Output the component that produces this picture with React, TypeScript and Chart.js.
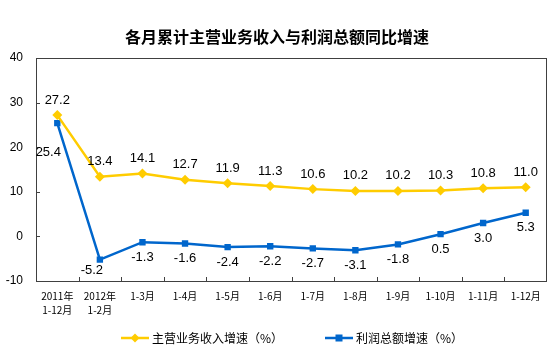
import React, { useEffect, useRef } from "react";
import { Chart, registerables } from "chart.js";

Chart.register(...registerables);

const chartTitle = "各月累计主营业务收入与利润总额同比增速";
const categories: (string | string[])[] = [
  ["2011年", "1-12月"],
  ["2012年", "1-2月"],
  "1-3月",
  "1-4月",
  "1-5月",
  "1-6月",
  "1-7月",
  "1-8月",
  "1-9月",
  "1-10月",
  "1-11月",
  "1-12月",
];
const revenueName = "主营业务收入增速（%）";
const profitName = "利润总额增速（%）";
const revenueGrowth = [27.2, 13.4, 14.1, 12.7, 11.9, 11.3, 10.6, 10.2, 10.2, 10.3, 10.8, 11.0];
const profitGrowth = [25.4, -5.2, -1.3, -1.6, -2.4, -2.2, -2.7, -3.1, -1.8, 0.5, 3.0, 5.3];
const yMin = -10;
const yMax = 40;
const yStep = 10;

const YELLOW = "#FFCC00";
const BLUE = "#0066CC";
const AXIS = "#404040";
const SANS = "'Liberation Sans', Arial, sans-serif";
const CJK = "'Noto Sans CJK SC', sans-serif";

// label placement style: [dx, dy] relative to point, per dataset
const revenueLabelShift = (i: number) => [0, -15];
const profitLabelShift = (i: number) => (i === 0 ? [-9, 29] : i === 1 ? [-8, 11] : [0, 15]);

const overlayPlugin = {
  id: "overlay",
  afterDatasetsDraw(chart: any) {
    const ctx = chart.ctx;
    const { left, right, top, bottom } = chart.chartArea;
    const x = chart.scales.x;
    const y = chart.scales.y;
    ctx.save();
    // frame
    ctx.strokeStyle = AXIS;
    ctx.lineWidth = 1;
    ctx.strokeRect(Math.round(left) + 0.5, Math.round(top) + 0.5, Math.round(right - left) - 1, Math.round(bottom - top));
    // y inward ticks
    for (let v = yMin; v <= yMax; v += yStep) {
      const py = Math.round(y.getPixelForValue(v)) + 0.5;
      ctx.beginPath();
      ctx.moveTo(left, py);
      ctx.lineTo(left + 4, py);
      ctx.stroke();
    }
    // x inward ticks between categories
    const n = categories.length;
    for (let i = 1; i < n; i++) {
      const px = Math.round((x.getPixelForValue(i - 1) + x.getPixelForValue(i)) / 2) + 0.5;
      ctx.beginPath();
      ctx.moveTo(px, bottom);
      ctx.lineTo(px, bottom - 4);
      ctx.stroke();
    }
    // data labels
    ctx.fillStyle = "#000";
    ctx.font = `13px ${SANS}`;
    ctx.textAlign = "center";
    ctx.textBaseline = "middle";
    const m0 = chart.getDatasetMeta(0);
    const m1 = chart.getDatasetMeta(1);
    m0.data.forEach((pt: any, i: number) => {
      const [dx, dy] = revenueLabelShift(i);
      ctx.fillText(revenueGrowth[i].toFixed(1), pt.x + dx, pt.y + dy);
    });
    m1.data.forEach((pt: any, i: number) => {
      const [dx, dy] = profitLabelShift(i);
      ctx.fillText(profitGrowth[i].toFixed(1), pt.x + dx, pt.y + dy);
    });
    // title
    ctx.font = `bold 16px ${CJK}`;
    ctx.fillText(chartTitle, chart.width / 2, 37);
    // legend
    const ly = 338;
    const drawItem = (x0: number, color: string, shape: string, text: string) => {
      ctx.strokeStyle = color;
      ctx.lineWidth = 2.5;
      ctx.beginPath();
      ctx.moveTo(x0, ly);
      ctx.lineTo(x0 + 28, ly);
      ctx.stroke();
      ctx.fillStyle = color;
      const cx = x0 + 14;
      if (shape === "diamond") {
        ctx.beginPath();
        ctx.moveTo(cx, ly - 4.5);
        ctx.lineTo(cx + 4.5, ly);
        ctx.lineTo(cx, ly + 4.5);
        ctx.lineTo(cx - 4.5, ly);
        ctx.closePath();
        ctx.fill();
      } else {
        ctx.fillRect(cx - 3.5, ly - 3.5, 7, 7);
      }
      ctx.fillStyle = "#000";
      ctx.font = `12px ${CJK}`;
      ctx.textAlign = "left";
      ctx.fillText(text, x0 + 31, ly);
    };
    drawItem(121, YELLOW, "diamond", revenueName);
    drawItem(325, BLUE, "square", profitName);
    ctx.restore();
  },
};

export default function App() {
  const ref = useRef<HTMLCanvasElement>(null);
  useEffect(() => {
    if (!ref.current) return;
    const chart = new Chart(ref.current, {
      type: "line",
      data: {
        labels: categories as any,
        datasets: [
          {
            label: revenueName,
            data: revenueGrowth,
            borderColor: YELLOW,
            backgroundColor: YELLOW,
            borderWidth: 2.5,
            pointStyle: "rectRot",
            pointRadius: 5,
            pointBorderWidth: 0,
            tension: 0,
          },
          {
            label: profitName,
            data: profitGrowth,
            borderColor: BLUE,
            backgroundColor: BLUE,
            borderWidth: 2.5,
            pointStyle: "rect",
            pointRadius: 4.5,
            pointBorderWidth: 0,
            tension: 0,
          },
        ],
      },
      options: {
        animation: false,
        responsive: false,
        maintainAspectRatio: false,
        layout: { padding: { top: 58, right: 7, left: 0, bottom: 0 } },
        plugins: {
          legend: { display: false },
          title: { display: false },
          tooltip: { enabled: false },
        },
        scales: {
          x: {
            offset: true,
            grid: { display: false, drawTicks: false },
            border: { display: false },
            ticks: {
              color: "#000",
              font: { size: 10, family: CJK, lineHeight: 1.4 },
              padding: 8,
              maxRotation: 0,
              autoSkip: false,
            },
            afterFit(scale: any) {
              scale.height = 70;
            },
          },
          y: {
            min: yMin,
            max: yMax,
            grid: { display: false, drawTicks: false },
            border: { display: false },
            ticks: {
              stepSize: yStep,
              color: "#000",
              font: { size: 12, family: SANS },
              padding: 13,
            },
            afterFit(scale: any) {
              scale.width = 36;
            },
          },
        },
      },
      plugins: [overlayPlugin],
    });
    return () => chart.destroy();
  }, []);
  return (
    <div style={{ position: "fixed", left: 0, top: 0, width: 554, height: 351, background: "#fff" }}>
      <canvas ref={ref} width={554} height={351} style={{ width: 554, height: 351 }} />
    </div>
  );
}
